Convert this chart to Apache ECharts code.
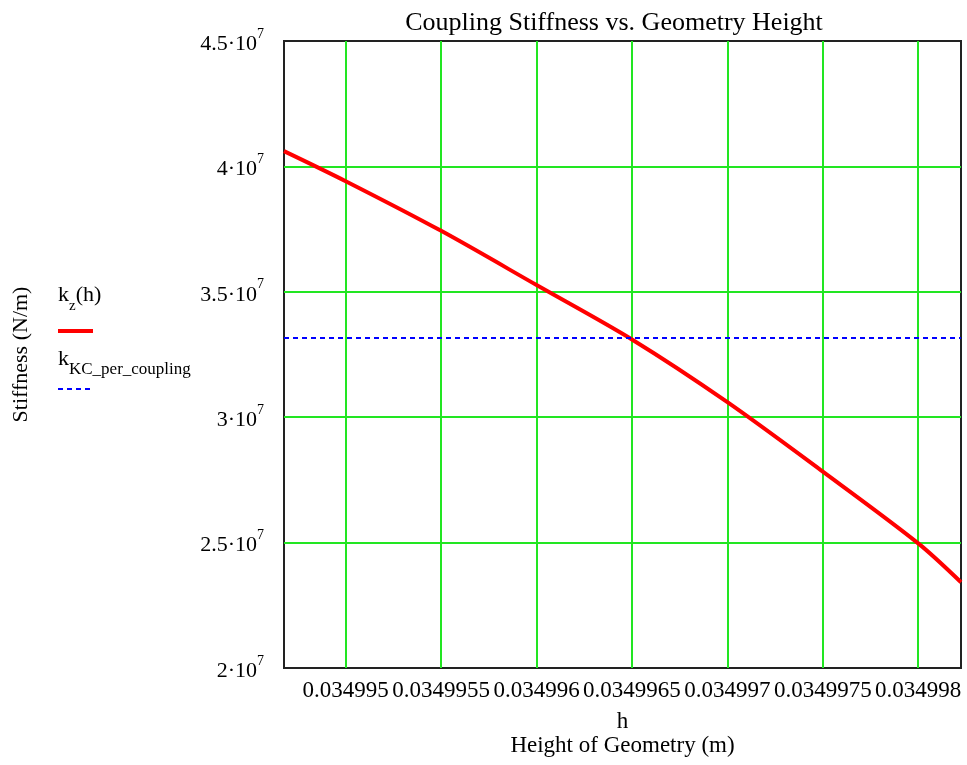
<!DOCTYPE html>
<html>
<head>
<meta charset="utf-8">
<script src="https://cdn.jsdelivr.net/npm/echarts@6/dist/echarts.min.js"></script>
<style>html,body{margin:0;padding:0;background:#fff;}#c{width:967px;height:765px;}</style>
</head>
<body>
<div id="c"></div>
<script>
// Data
const heights = [0.0349946767, 0.034995, 0.0349955, 0.034996, 0.0349965, 0.034997, 0.0349975, 0.034998, 0.034998224];
const kz = [4.061e7, 3.941e7, 3.743e7, 3.527e7, 3.31e7, 3.06e7, 2.783e7, 2.497e7, 2.342e7];
const kKC = 3.316e7;
const xTicks = [0.034995, 0.0349955, 0.034996, 0.0349965, 0.034997, 0.0349975, 0.034998];
const xTickLabels = ['0.034995', '0.0349955', '0.034996', '0.0349965', '0.034997', '0.0349975', '0.034998'];
const xMin = 0.0349946767, xMax = 0.034998224;
const yMin = 2e7, yMax = 4.5e7, yStep = 0.5e7;

const FONT = '"Liberation Serif", "DejaVu Serif", serif';
const chart = echarts.init(document.getElementById('c'));
const redData = heights.map((h, i) => [h, kz[i]]);
const blueData = [[xMin, kKC], [xMax, kKC]];

chart.setOption({
  backgroundColor: '#fff',
  animation: false,
  title: {
    text: 'Coupling Stiffness vs. Geometry Height',
    left: 609, top: 5, textAlign: 'center',
    textStyle: { fontFamily: FONT, fontSize: 26, fontWeight: 'normal', color: '#000' }
  },
  grid: { left: 284, right: 6, top: 41, bottom: 97, show: true, borderColor: '#222', borderWidth: 2, backgroundColor: 'transparent' },
  xAxis: {
    type: 'value', min: xMin, max: xMax,
    axisLine: { show: false }, axisTick: { show: false, customValues: xTicks },
    splitLine: { show: true, showMinLine: true, showMaxLine: true, lineStyle: { color: '#22e622', width: 2 } },
    axisLabel: {
      customValues: xTicks, margin: 11, color: '#000', fontFamily: FONT, fontSize: 23,
      formatter: v => { const i = xTicks.findIndex(t => Math.abs(t - v) < 1e-12); return i >= 0 ? xTickLabels[i] : ''; }
    },
    name: '{a|h}\n{b|Height of Geometry (m)}', nameLocation: 'middle', nameGap: 42,
    nameTextStyle: { rich: { a: { fontFamily: FONT, fontSize: 23, color: '#000', lineHeight: 24 }, b: { fontFamily: FONT, fontSize: 23, color: '#000', lineHeight: 24 } } }
  },
  yAxis: {
    type: 'value', min: yMin, max: yMax, interval: yStep,
    axisLine: { show: false }, axisTick: { show: false },
    splitLine: { show: true, showMinLine: false, showMaxLine: false, lineStyle: { color: '#22e622', width: 2 } },
    axisLabel: {
      margin: 20, color: '#000',
      formatter: v => { const m = v / 1e7; return '{b|' + (Number.isInteger(m) ? m : m.toFixed(1)) + '\u00b710}{s|7}'; },
      rich: {
        b: { fontFamily: FONT, fontSize: 22, color: '#000', lineHeight: 28, verticalAlign: 'bottom' },
        s: { fontFamily: FONT, fontSize: 14, color: '#000', lineHeight: 28, verticalAlign: 'top' }
      }
    },
    name: 'Stiffness (N/m)', nameLocation: 'middle', nameGap: 252, nameRotate: 90,
    nameTextStyle: { fontFamily: FONT, fontSize: 22, color: '#000' }
  },
  graphic: [
    { type: 'text', left: 58, top: 284, style: { rich: {
        n: { fontFamily: FONT, fontSize: 22, fill: '#000', lineHeight: 30, verticalAlign: 'top' },
        s: { fontFamily: FONT, fontSize: 15, fill: '#000', lineHeight: 30, verticalAlign: 'bottom' } },
      text: '{n|k}{s|z}{n|(h)}' } },
    { type: 'line', shape: { x1: 58, y1: 331, x2: 93, y2: 331 }, style: { stroke: '#ff0000', lineWidth: 4 } },
    { type: 'text', left: 58, top: 348, style: { rich: {
        n: { fontFamily: FONT, fontSize: 22, fill: '#000', lineHeight: 30, verticalAlign: 'top' },
        s: { fontFamily: FONT, fontSize: 17, fill: '#000', lineHeight: 30, verticalAlign: 'bottom' } },
      text: '{n|k}{s|KC_per_coupling}' } },
    { type: 'line', shape: { x1: 58, y1: 389, x2: 92, y2: 389 }, style: { stroke: '#0000ff', lineWidth: 2, lineDash: [5, 4] } }
  ],
  series: [
    { type: 'line', data: redData, smooth: 0.3, showSymbol: false, lineStyle: { color: '#ff0000', width: 4 }, z: 3 },
    { type: 'line', data: blueData, showSymbol: false, lineStyle: { color: '#0000ff', width: 2, type: [5, 4] }, z: 4 }
  ]
});
</script>
</body>
</html>
